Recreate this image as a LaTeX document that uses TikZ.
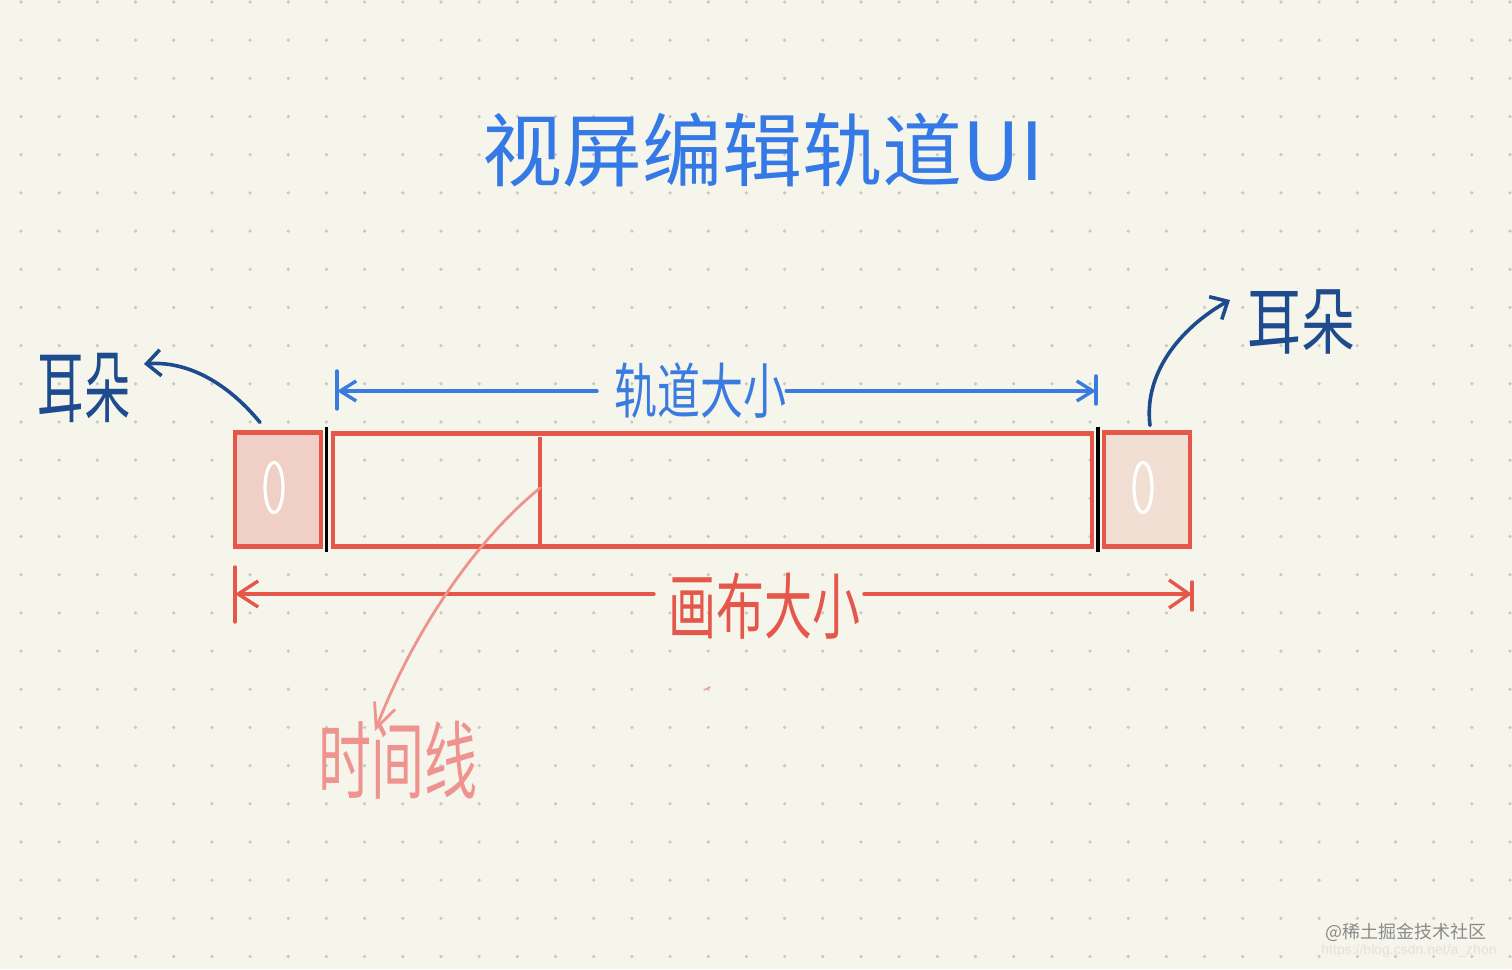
\documentclass[tikz,border=0pt]{standalone}
\usepackage{fontspec}
\newfontfamily\cjk{Noto Sans CJK SC}
\newfontfamily\lsans{Liberation Sans}
\usetikzlibrary{arrows.meta,calc}
\definecolor{bg}{HTML}{F6F5EB}
\definecolor{dotc}{HTML}{C9C9C2}
\definecolor{redc}{HTML}{E5574B}
\definecolor{earLfill}{HTML}{F0D0C6}
\definecolor{earRfill}{HTML}{F0DFD2}
\definecolor{bluec}{HTML}{3A7BE0}
\definecolor{titlec}{HTML}{3479E6}
\definecolor{navy}{HTML}{1E4A8E}
\definecolor{pinkc}{HTML}{EE938E}
\definecolor{wmgray}{HTML}{8A8A8A}
\definecolor{wmlight}{HTML}{E2E2DC}
\tikzset{
  earbox/.style={draw=redc, line width=4.2pt, minimum width=86pt, minimum height=114pt, inner sep=0pt},
  trackbox/.style={draw=redc, line width=4.2pt, minimum width=759pt, minimum height=113pt, inner sep=0pt},
  zeroring/.style={draw=white, line width=3.2pt},
  sepline/.style={draw=black, line width=3.6pt},
  dimblue/.style={draw=bluec, line width=3.4pt, line cap=round},
  dimred/.style={draw=redc, line width=3.4pt, line cap=round},
  navyarrow/.style={draw=navy, line width=3.6pt, line cap=round, -{Straight Barb[length=14pt,width=26pt,line width=3.6pt]}},
  pinkarrow/.style={draw=pinkc, line width=2.8pt, line cap=round, -{Straight Barb[length=24pt,width=22pt,line width=2.8pt]}},
  handlbl/.style={inner sep=0pt, font=\cjk},
}
\begin{document}
\begin{tikzpicture}[x=1pt,y=-1pt]
\useasboundingbox (0,0) rectangle (1512,969);
\fill[bg] (0,0) rectangle (1512,969);
% dot grid
\foreach \i in {0,...,39}{
  \foreach \j in {0,...,25}{
    \fill[dotc] (21+38.18*\i, 2+38.18*\j) circle (1.8);
  }
}
% title
\node[inner sep=0pt, text=titlec, font=\cjk\fontsize{80}{80}\selectfont] (title) at (763,150) {视屏编辑轨道UI};

% boxes
\node[earbox, fill=earLfill] (earL) at (278,489.5) {};
\node[earbox, fill=earRfill] (earR) at (1147,489.5) {};
\node[trackbox] (track) at (712.5,490) {};
\draw[zeroring] (earL.center) ++(-4,-2) ellipse [x radius=9, y radius=25];
\draw[zeroring] (earR.center) ++(-4,-2) ellipse [x radius=9, y radius=25];
% black separators
\draw[sepline] ([xshift=-4.5pt,yshift=4pt]track.north west) -- ([xshift=-4.5pt,yshift=-3pt]track.south west);
\draw[sepline] ([xshift=4pt,yshift=4pt]track.north east) -- ([xshift=4pt,yshift=-3pt]track.south east);
% time line
\coordinate (tlTop) at (540,437);
\coordinate (tlMid) at (540,488);
\draw[draw=redc, line width=3.4pt] (tlTop) -- (tlTop |- track.south);

% blue dimension (track size)
\coordinate (bL) at (337,391);
\coordinate (bR) at (1096,391);
\node[handlbl, text=bluec, font=\cjk\fontsize{43}{43}\selectfont, yscale=1.4] (trackLbl) at (700,391) {轨道大小};
\draw[dimblue] ([yshift=20pt]bL) -- ([yshift=-18pt]bL);
\draw[dimblue] ([yshift=15pt]bR) -- ([yshift=-13pt]bR);
\draw[dimblue, {Straight Barb[length=16pt,width=20pt,line width=3.4pt]}-] (bL) -- (bL -| 597,0);
\draw[dimblue, -{Straight Barb[length=16pt,width=20pt,line width=3.4pt]}] (bR -| trackLbl.east) -- (bR);

% red dimension (canvas size)
\coordinate (rL) at (235,594);
\coordinate (rR) at (1192,594);
\node[handlbl, text=redc, font=\cjk\fontsize{48}{48}\selectfont, yscale=1.5] (canvasLbl) at (764,606) {画布大小};
\draw[dimred] ([yshift=27pt]rL) -- ([yshift=-28pt]rL);
\draw[dimred] ([yshift=12pt]rR) -- ([yshift=-16pt]rR);
\draw[dimred, {Straight Barb[length=20pt,width=26pt,line width=3.4pt]}-] (rL) -- (rL -| 654,0);
\draw[dimred, -{Straight Barb[length=20pt,width=28pt,line width=3.4pt]}] (rR -| 864,0) -- (rR);

% ear annotations
\node[handlbl, text=navy, font=\cjk\fontsize{56}{56}\selectfont, xscale=0.83, yscale=1.4] (earLLbl) at (84,388) {耳朵};
\node[handlbl, text=navy, font=\cjk\fontsize{54}{54}\selectfont, yscale=1.35] (earRLbl) at (1301,322) {耳朵};
\coordinate (aLend) at (144,364);
\coordinate (aRend) at (1230,300);
\draw[navyarrow] ([xshift=-18pt,yshift=8pt]earL.north) .. controls (225,380) and (185,361) .. (aLend);
\draw[navyarrow] ([xshift=3pt,yshift=5pt]earR.north) .. controls (1143,370) and (1185,325) .. (aRend);

% time line annotation
\node[handlbl, text=pinkc, font=\cjk\fontsize{53}{53}\selectfont, yscale=1.6] (tlLbl) at (398,760) {时间线};
\coordinate (tlTip) at (375,731);
\draw[pinkarrow] (tlMid) .. controls (470,545) and (410,640) .. (tlTip);

% tiny stray mark
\coordinate (m1) at (704,690);
\coordinate (m2) at (710,687);
\draw[redc!60, line width=1.5pt, line cap=round] (m1) -- (m2);

% watermark
\node[inner sep=0pt, text=wmgray, font=\cjk\fontsize{18}{18}\selectfont] (wm1) at (1406,932) {@稀土掘金技术社区};
\node[inner sep=0pt, text=wmlight, font=\lsans\fontsize{14}{14}\selectfont] (wm2) at (1409,951) {https://blog.csdn.net/a\_zhon};
\end{tikzpicture}
\end{document}
